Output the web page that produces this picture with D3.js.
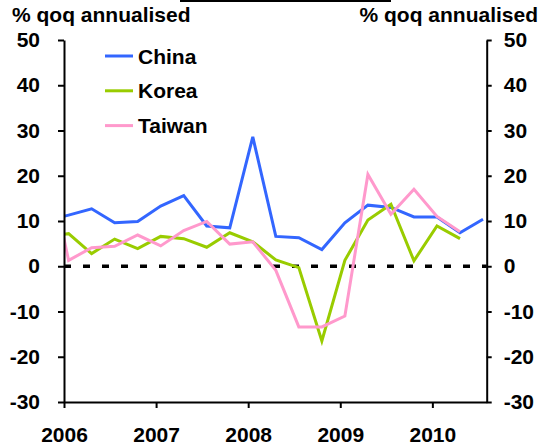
<!DOCTYPE html>
<html>
<head>
<meta charset="utf-8">
<script src="https://cdn.jsdelivr.net/npm/d3@7"></script>
<style>
body { margin: 0; background: #fff; }
svg { display: block; font-family: "Liberation Sans", Arial, sans-serif; font-weight: bold; }
</style>
</head>
<body>
<svg width="543" height="447"></svg>
<script>
// quarterly data, first entry sits left of the axis and gets clipped
const quarters = ["2005Q4",
    "2006Q1", "2006Q2", "2006Q3", "2006Q4",
    "2007Q1", "2007Q2", "2007Q3", "2007Q4",
    "2008Q1", "2008Q2", "2008Q3", "2008Q4",
    "2009Q1", "2009Q2", "2009Q3", "2009Q4",
    "2010Q1", "2010Q2", "2010Q3"];
const china  = [10.0, 11.3, 12.7, 9.6, 9.9, 13.3, 15.6, 8.9, 8.5, 28.6, 6.6, 6.3, 3.7, 9.6, 13.5, 13.0, 10.9, 10.9, 7.4, 10.4];
const korea  = [6.5, 7.2, 2.8, 6.0, 3.9, 6.6, 6.1, 4.2, 7.4, 5.4, 1.4, -0.3, -16.5, 1.3, 10.2, 13.7, 1.2, 8.9, 6.1, null];
const taiwan = [25.0, 1.3, 4.1, 4.4, 6.9, 4.5, 7.9, 9.9, 4.9, 5.4, -0.9, -13.4, -13.4, -11.0, 20.3, 11.5, 17.0, 11.0, 7.6, null];
const seriesNames = ["China", "Korea", "Taiwan"];
const seriesColors = ["#3366ff", "#99cc00", "#ff99cc"];
const yTicks = [-30, -20, -10, 0, 10, 20, 30, 40, 50];
const yearTicks = [2006, 2007, 2008, 2009, 2010];
const axisTitle = "% qoq annualised";

const svg = d3.select("svg");

// points sit a little after the start of each quarter
const qPos = q => +q.slice(0, 4) + (+q[5] - 1) * 0.25 + 0.05;

const x = d3.scaleLinear().domain([2006, 2010.59]).range([64, 486.7]);
const y = d3.scaleLinear().domain([-30, 50]).range([402, 40]);

svg.append("line")
    .attr("x1", 180).attr("x2", 391)
    .attr("y1", 1).attr("y2", 1)
    .attr("stroke", "black").attr("stroke-width", 2);

svg.append("text").attr("x", 12).attr("y", 22)
    .attr("font-size", 21).text(axisTitle);
svg.append("text").attr("x", 538).attr("y", 22)
    .attr("text-anchor", "end").attr("font-size", 21).text(axisTitle);

svg.append("clipPath").attr("id", "plot")
    .append("rect")
    .attr("x", x.range()[0]).attr("y", 0)
    .attr("width", x.range()[1] - x.range()[0]).attr("height", 447);

// zero line
svg.append("line")
    .attr("x1", x.range()[0]).attr("x2", x.range()[1])
    .attr("y1", y(0)).attr("y2", y(0))
    .attr("stroke", "black").attr("stroke-width", 3.5)
    .attr("stroke-dasharray", "7,12");

const line = d3.line()
    .defined(d => d.v != null)
    .x(d => x(qPos(d.q)))
    .y(d => y(d.v));

[china, korea, taiwan].forEach(function(vals, i) {
    svg.append("path")
        .datum(quarters.map((q, j) => ({ q: q, v: vals[j] })))
        .attr("clip-path", "url(#plot)")
        .attr("d", line)
        .attr("fill", "none")
        .attr("stroke", seriesColors[i])
        .attr("stroke-width", 3)
        .attr("stroke-linejoin", "miter");
});

function styleAxis(g) {
    g.selectAll("path, line").attr("stroke", "black").attr("stroke-width", 2);
    g.selectAll("text").attr("font-size", 21).attr("fill", "black")
        .attr("font-family", "Liberation Sans, Arial, sans-serif").attr("font-weight", "bold");
}

svg.append("g")
    .attr("transform", `translate(${x.range()[0]},0)`)
    .call(d3.axisLeft(y).tickValues(yTicks).tickFormat(d => String(d))
        .tickSize(6).tickSizeOuter(0).tickPadding(18))
    .call(styleAxis);

svg.append("g")
    .attr("transform", `translate(${x.range()[1]},0)`)
    .call(d3.axisRight(y).tickValues(yTicks).tickFormat(d => String(d))
        .tickSize(5).tickSizeOuter(0).tickPadding(12))
    .call(styleAxis);

svg.append("g")
    .attr("transform", `translate(0,${y(-30)})`)
    .call(d3.axisBottom(x).tickValues(yearTicks).tickFormat(d3.format("d"))
        .tickSize(6).tickSizeOuter(0).tickPadding(19))
    .call(styleAxis);

// legend
const legend = svg.append("g");
seriesNames.forEach(function(name, i) {
    const ly = 56 + i * 34.8;
    legend.append("line")
        .attr("x1", 105).attr("x2", 133)
        .attr("y1", ly).attr("y2", ly)
        .attr("stroke", seriesColors[i]).attr("stroke-width", 3);
    legend.append("text")
        .attr("x", 138).attr("y", ly).attr("dy", "0.36em")
        .attr("font-size", 21).text(name);
});
</script>
</body>
</html>
